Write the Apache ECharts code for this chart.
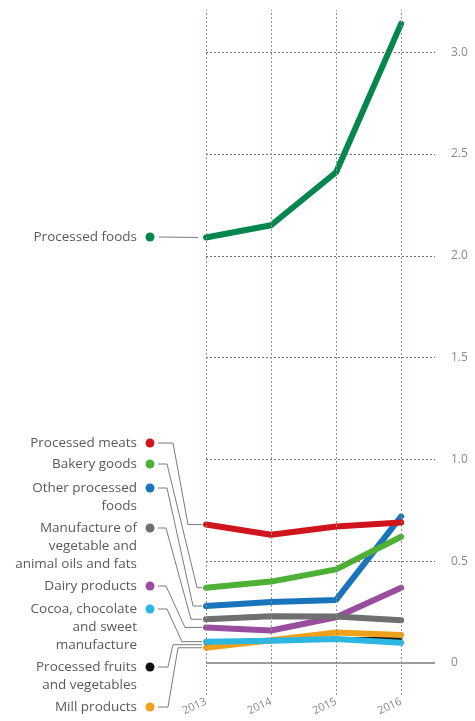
<!DOCTYPE html>
<html>
<head>
<meta charset="utf-8">
<style>
  html, body { margin: 0; padding: 0; background: #fff; }
  #chart { width: 475px; height: 721px; }
</style>
<script src="https://cdn.jsdelivr.net/npm/echarts@6/dist/echarts.min.js"></script>
</head>
<body>
<div id="chart"></div>
<script>
// data
const years = [2013, 2014, 2015, 2016];
const processedFoods = [2.09, 2.15, 2.41, 3.14];
const processedMeats = [0.68, 0.63, 0.67, 0.69];
const bakeryGoods = [0.37, 0.40, 0.46, 0.62];
const otherProcessed = [0.28, 0.30, 0.31, 0.72];
const vegOils = [0.215, 0.23, 0.228, 0.21];
const dairyProducts = [0.175, 0.16, 0.225, 0.37];
const cocoaSweets = [0.105, 0.11, 0.118, 0.10];
const fruitsVeg = [0.09, 0.105, 0.12, 0.12];
const millProducts = [0.075, 0.112, 0.15, 0.138];
const yTicks = [0, 0.5, 1, 1.5, 2, 2.5, 3];
const yTickLabels = ["0", "0.5", "1.0", "1.5", "2.0", "2.5", "3.0"];

const seriesDefs = [
  { name: "Processed foods", data: processedFoods, color: "#03874c", label: "Processed foods" },
  { name: "Processed fruits and vegetables", data: fruitsVeg, color: "#111111", label: "Processed fruits\nand vegetables", width: 3 },
  { name: "Mill products", data: millProducts, color: "#f0a11c", label: "Mill products" },
  { name: "Cocoa, chocolate and sweet manufacture", data: cocoaSweets, color: "#2cb6e2", label: "Cocoa, chocolate\nand sweet\nmanufacture" },
  { name: "Dairy products", data: dairyProducts, color: "#9a4d9e", label: "Dairy products" },
  { name: "Manufacture of vegetable and animal oils and fats", data: vegOils, color: "#6e6f71", label: "Manufacture of\nvegetable and\nanimal oils and fats" },
  { name: "Other processed foods", data: otherProcessed, color: "#1a74bc", label: "Other processed\nfoods" },
  { name: "Bakery goods", data: bakeryGoods, color: "#4db135", label: "Bakery goods" },
  { name: "Processed meats", data: processedMeats, color: "#d0141c", label: "Processed meats" }
];

// left label layout (y of first text line, elbow x positions)
const labelLayout = {
  "Processed foods": { y: 237 },
  "Processed meats": { y: 443, x1: 173, x2: 188 },
  "Bakery goods": { y: 464, x1: 167, x2: 197 },
  "Other processed foods": { y: 488, x1: 167, x2: 193 },
  "Manufacture of vegetable and animal oils and fats": { y: 528, x1: 166, x2: 191 },
  "Dairy products": { y: 586, x1: 166, x2: 185 },
  "Cocoa, chocolate and sweet manufacture": { y: 609, x1: 167, x2: 182 },
  "Processed fruits and vegetables": { y: 667, x1: 168, x2: 173 },
  "Mill products": { y: 707, x1: 168, x2: 178 }
};

const chart = echarts.init(document.getElementById("chart"));

const series = seriesDefs.map(s => ({
  name: s.name,
  type: "line",
  data: years.map((y, i) => [y, s.data[i]]),
  symbol: "none",
  z: 3,
  lineStyle: { color: s.color, width: s.width || 6, cap: "round", join: "round" },
  itemStyle: { color: s.color }
}));

// helper series carrying grid lines and y labels
series.unshift({
  type: "line",
  data: [],
  z: 1,
  silent: true,
  markLine: {
    symbol: "none",
    silent: true,
    animation: false,
    data: yTicks.map((v, i) => ({
      yAxis: v,
      lineStyle: v === 0
        ? { color: "#7c7c7c", type: "solid", width: 1.5 }
        : { color: "#6f6f6f", type: [2, 2], width: 1 },
      label: {
        show: true, position: "end", distance: 16, formatter: yTickLabels[i],
        color: "#8a8a8a", fontSize: 12, fontFamily: "Open Sans"
      }
    })).concat(years.map(y => ({
      xAxis: y,
      lineStyle: { color: "#7f9e72", type: [2, 2], width: 1 },
      label: { show: false }
    })))
  }
});

chart.setOption({
  animation: false,
  grid: { left: 206, right: 40, top: 10, bottom: 26 },
  xAxis: {
    type: "value",
    min: 2013,
    max: 2016.52,
    interval: 1,
    axisLine: { show: false },
    axisTick: { show: false },
    splitLine: { show: false },
    axisLabel: {
      rotate: 25,
      margin: 6,
      color: "#8a8a8a",
      fontSize: 11,
      fontFamily: "Open Sans",
      formatter: v => (Number.isInteger(v) && v <= 2016 ? String(v) : "")
    }
  },
  yAxis: {
    type: "value",
    min: -0.157,
    max: 3.207,
    axisLine: { show: false },
    axisTick: { show: false },
    axisLabel: { show: false },
    splitLine: { show: false }
  },
  series: series
});

// left-hand labels, dots and connectors
const graphics = [];
seriesDefs.forEach(s => {
  const lay = labelLayout[s.name];
  const start = chart.convertToPixel({ xAxisIndex: 0, yAxisIndex: 0 }, [years[0], s.data[0]]);
  graphics.push({
    type: "text",
    x: 137, y: lay.y - 9,
    style: {
      text: s.label, align: "right", verticalAlign: "top",
      fill: "#5a5a5a", fontSize: 13.5, lineHeight: 18, fontFamily: "Open Sans"
    }
  });
  graphics.push({
    type: "circle",
    shape: { cx: 150, cy: lay.y, r: 4.5 },
    style: { fill: s.color }
  });
  let pts;
  if (lay.x1 === undefined) {
    pts = [[159, lay.y], [start[0] - 8, start[1]]];
  } else {
    pts = [[158, lay.y], [lay.x1, lay.y], [lay.x2, start[1]], [start[0] - 4, start[1]]];
  }
  graphics.push({
    type: "polyline",
    z: 0,
    shape: { points: pts },
    style: { stroke: "#7a7a7a", lineWidth: 1, fill: null }
  });
});
chart.setOption({ graphic: graphics });
</script>
</body>
</html>
